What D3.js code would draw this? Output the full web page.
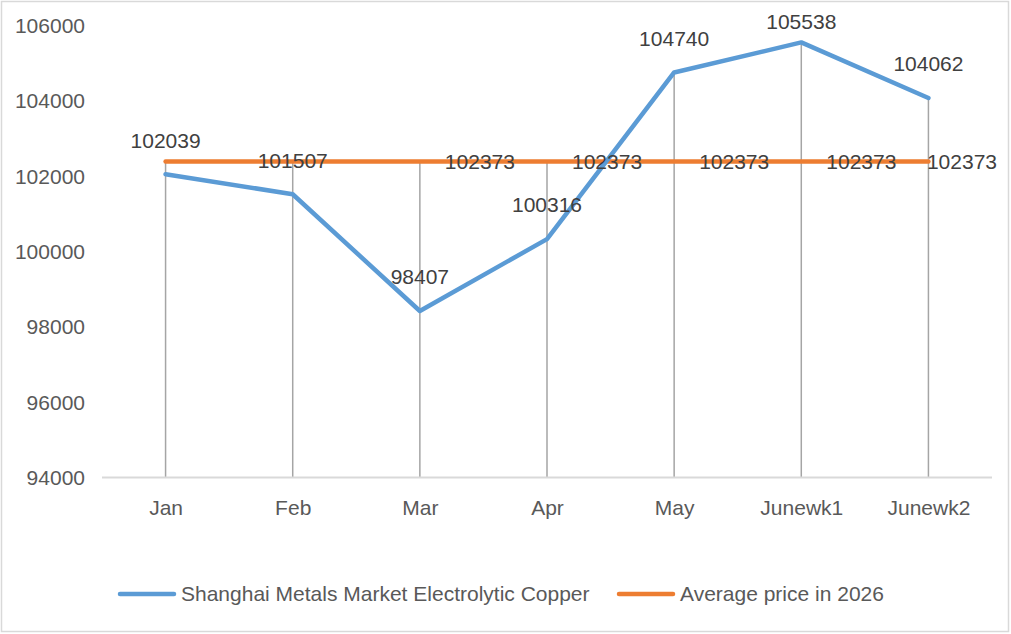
<!DOCTYPE html>
<html lang="en">
  <head>
    <meta charset="UTF-8" />
    <title>Shanghai Metals Market Electrolytic Copper</title>
    <script src="https://d3js.org/d3.v7.min.js"></script>
    <style>
      body {
        margin: 0;
        background: #fff;
        font-family: "Liberation Sans", Arial, sans-serif;
      }
      .line {
        fill: none;
        stroke-linecap: round;
        stroke-linejoin: round;
      }
      .axis text {
        fill: #595959;
        font-size: 21px;
      }
      .label {
        fill: #404040;
        font-size: 21px;
      }
    </style>
  </head>
  <body>
    <svg width="1011" height="634" id="chart"></svg>

    <script>
      // chart data
      const months = ["Jan", "Feb", "Mar", "Apr", "May", "Junewk1", "Junewk2"];
      const copperPrice = [102039, 101507, 98407, 100316, 104740, 105538, 104062];
      const averagePrice = [102373, 102373, 102373, 102373, 102373, 102373, 102373];
      const avgLabelMonths = ["Mar", "Apr", "May", "Junewk1", "Junewk2"];
      const yTicks = [94000, 96000, 98000, 100000, 102000, 104000, 106000];
      const seriesNames = ["Shanghai Metals Market Electrolytic Copper", "Average price in 2026"];

      const svg = d3.select("#chart");
      const width = +svg.attr("width");
      const height = +svg.attr("height");

      const margins = { top: 25, right: 19, bottom: 157, left: 102 };
      const chartWidth = width - margins.left - margins.right;
      const chartHeight = height - margins.top - margins.bottom;

      // outer frame
      svg
        .append("rect")
        .attr("x", 1.5)
        .attr("y", 1.5)
        .attr("width", width - 4)
        .attr("height", height - 4)
        .attr("fill", "#fff")
        .attr("stroke", "#d9d9d9")
        .attr("stroke-width", 1.5);

      const chartArea = svg
        .append("g")
        .attr("transform", `translate(${margins.left},${margins.top})`);

      const xScale = d3.scalePoint().domain(months).range([0, chartWidth]).padding(0.5);
      const yScale = d3.scaleLinear().domain([94000, 106000]).range([chartHeight, 0]);

      const color = d3.scaleOrdinal().domain(seriesNames).range(["#5b9bd5", "#ed7d31"]);

      // y axis labels (no line)
      const yAxis = chartArea
        .append("g")
        .attr("class", "axis")
        .call(d3.axisLeft(yScale).tickValues(yTicks).tickSize(0).tickPadding(17).tickFormat(d3.format("d")));
      yAxis.select(".domain").remove();
      yAxis.selectAll("text").attr("dy", "0.35em");

      // x axis
      const xAxis = chartArea
        .append("g")
        .attr("class", "axis")
        .attr("transform", `translate(0,${chartHeight})`)
        .call(d3.axisBottom(xScale).tickSize(0).tickPadding(31));
      xAxis.select(".domain").remove();
      xAxis.selectAll("text").attr("dy", "0.35em");

      // drop lines
      chartArea
        .selectAll(".drop")
        .data(months)
        .join("line")
        .attr("class", "drop")
        .attr("x1", (d) => xScale(d))
        .attr("x2", (d) => xScale(d))
        .attr("y1", (d, i) => yScale(Math.max(copperPrice[i], averagePrice[i])))
        .attr("y2", chartHeight)
        .attr("stroke", "#a5a5a5")
        .attr("stroke-width", 1.5);

      chartArea
        .append("line")
        .attr("x1", 0)
        .attr("x2", chartWidth)
        .attr("y1", chartHeight + 0.5)
        .attr("y2", chartHeight + 0.5)
        .attr("stroke", "#d9d9d9")
        .attr("stroke-width", 2);

      const lineGen = d3
        .line()
        .x((d) => xScale(d.month))
        .y((d) => yScale(d.value));

      const avgData = months.map((m, i) => ({ month: m, value: averagePrice[i] }));
      const copperData = months.map((m, i) => ({ month: m, value: copperPrice[i] }));

      chartArea
        .append("path")
        .datum(avgData)
        .attr("class", "line")
        .attr("stroke", color(seriesNames[1]))
        .attr("stroke-width", 4.5)
        .attr("d", lineGen);

      chartArea
        .append("path")
        .datum(copperData)
        .attr("class", "line")
        .attr("stroke", color(seriesNames[0]))
        .attr("stroke-width", 4.5)
        .attr("d", lineGen);

      // data labels: copper above the point, pushed down if it would leave the frame
      chartArea
        .selectAll(".copper-label")
        .data(copperData)
        .join("text")
        .attr("class", "label")
        .attr("x", (d) => xScale(d.month))
        .attr("y", (d) => Math.max(yScale(d.value) - 34, 22 - margins.top))
        .attr("dy", "0.35em")
        .attr("text-anchor", "middle")
        .text((d) => d.value);

      // average labels to the right, kept inside the frame
      chartArea
        .selectAll(".avg-label")
        .data(avgData.filter((d) => avgLabelMonths.includes(d.month)))
        .join("text")
        .attr("class", "label")
        .attr("y", (d) => yScale(d.value))
        .attr("dy", "0.35em")
        .text((d) => d.value)
        .attr("x", function (d) {
          const w = this.getComputedTextLength();
          return Math.min(xScale(d.month) + 25, width - 14 - margins.left - w);
        });

      // legend
      const legendY = 594;
      const legendItems = [
        { name: seriesNames[0], x: 118 },
        { name: seriesNames[1], x: 617 },
      ];
      legendItems.forEach((item) => {
        svg
          .append("line")
          .attr("x1", item.x + 2)
          .attr("x2", item.x + 56)
          .attr("y1", legendY)
          .attr("y2", legendY)
          .attr("stroke", color(item.name))
          .attr("stroke-width", 4.5)
          .attr("stroke-linecap", "round");
        svg
          .append("text")
          .attr("x", item.x + 63)
          .attr("y", legendY)
          .attr("dy", "0.35em")
          .attr("fill", "#595959")
          .attr("font-size", 21)
          .text(item.name);
      });
    </script>
  </body>
</html>
